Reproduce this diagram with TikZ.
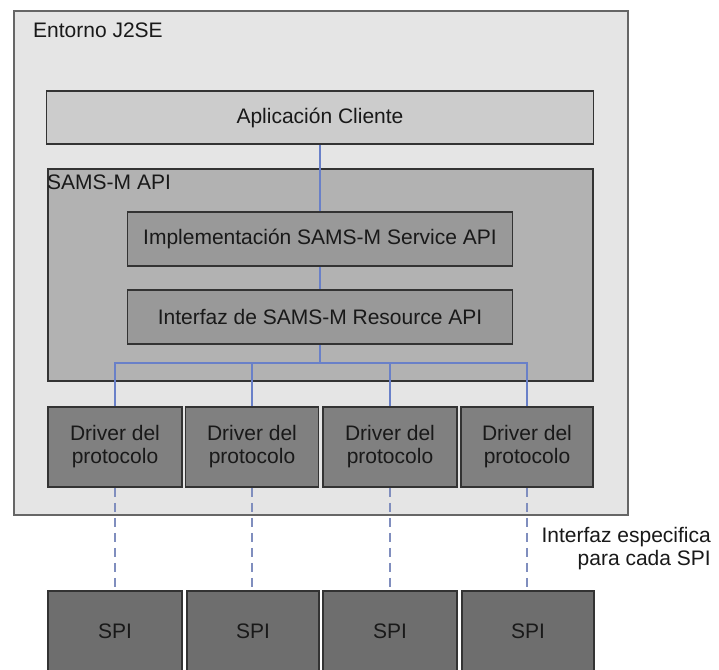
\documentclass[tikz,border=0pt]{standalone}
\usepackage{fontspec}
\setmainfont{Liberation Sans}
\definecolor{linkblue}{RGB}{105,128,200}
\definecolor{spiblue}{RGB}{128,142,190}
\begin{document}
\begin{tikzpicture}[x=1pt,y=-1pt,
  font=\fontsize{21}{23}\selectfont,
  box/.style={draw=black!80,line width=1.6pt,inner sep=0pt,text=black!90},
  envbox/.style={box,draw=black!60,fill=black!10},
  appbox/.style={box,fill=black!20},
  apibox/.style={box,fill=black!30},
  layerbox/.style={box,fill=black!40},
  drvbox/.style={box,fill=black!50,align=center,minimum width=134pt,minimum height=80pt},
  spibox/.style={box,fill=black!57,minimum width=134pt,minimum height=80pt},
  link/.style={draw=linkblue,line width=1.5pt},
  spilink/.style={draw=spiblue,line width=1.5pt,dash pattern=on 9pt off 6pt},
  txt/.style={inner sep=0pt,text=black!90}]
\useasboundingbox (0,0) rectangle (719,669);
\fill[white] (0,0) rectangle (719,669);

% J2SE environment frame
\node[envbox,minimum width=614pt,minimum height=504pt] (env) at (321,263) {};
\node[txt,anchor=west] (envlbl) at (33,30) {Entorno J2SE};

% client application
\node[appbox,minimum width=547pt,minimum height=53pt] (app) at (320,117.5) {Aplicación Cliente};

% SAMS-M API container and its layers
\node[apibox,minimum width=545pt,minimum height=212pt] (api) at (320.5,275) {};
\node[txt,anchor=west] (apilbl) at (47,182) {SAMS-M API};
\node[layerbox,minimum width=385pt,minimum height=54pt] (impl) at (320,239) {Implementación SAMS-M Service API};
\node[layerbox,minimum width=385pt,minimum height=54pt] (res) at (320,317) {Interfaz de SAMS-M Resource API};

\draw[link] (app.south) -- (impl.north);
\draw[link] (impl.south) -- (res.north);

% protocol drivers
\node[drvbox] (d1) at (115,447) {Driver del\\protocolo};
\node[drvbox,minimum width=133pt] (d2) at (252,447) {Driver del\\protocolo};
\node[drvbox] (d3) at (390,447) {Driver del\\protocolo};
\node[drvbox,minimum width=132pt] (d4) at (527,447) {Driver del\\protocolo};

% bus from the resource interface to every driver
\coordinate (bus) at (320,363);
\draw[link] (res.south) -- (bus);
\draw[link] (d1.north) |- (bus) -| (d4.north);
\draw[link] (d2.north) -- (d2.north |- bus);
\draw[link] (d3.north) -- (d3.north |- bus);

% service provider interfaces
\node[spibox] (s1) at (115,631) {SPI};
\node[spibox,minimum width=132pt] (s2) at (253,631) {SPI};
\node[spibox] (s3) at (390,631) {SPI};
\node[spibox,minimum width=132pt] (s4) at (528,631) {SPI};

\draw[spilink] (d1.south) -- (d1.south |- s1.north);
\draw[spilink] (d2.south) -- (d2.south |- s2.north);
\draw[spilink] (d3.south) -- (d3.south |- s3.north);
\draw[spilink] (d4.south) -- (d4.south |- s4.north);

\node[txt,anchor=east,align=right] (note) at (711,549) {Interfaz especifica\\para cada SPI};
\end{tikzpicture}
\end{document}
